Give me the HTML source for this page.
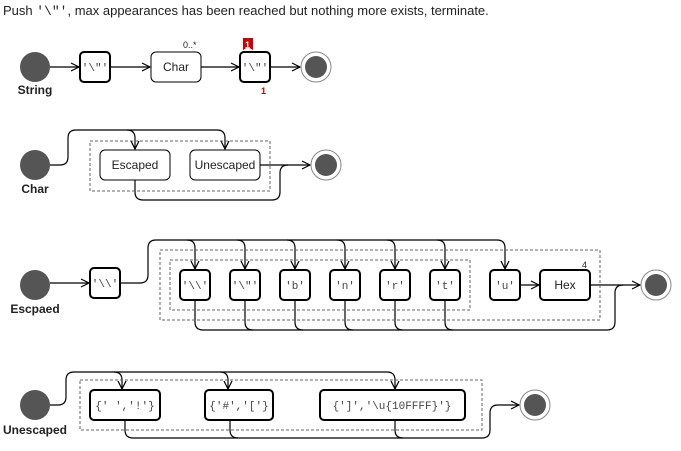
<!DOCTYPE html>
<html><head><meta charset="utf-8"><style>
body{margin:0;background:#fff;width:681px;height:451px;overflow:hidden}
svg{display:block}
text{font-family:"Liberation Sans",sans-serif}
.m{font-family:"Liberation Mono",monospace;font-size:11px;fill:#444}
.l{font-size:12px;fill:#222}
.b{font-weight:bold;font-size:12px;fill:#222}
</style></head><body>
<svg width="681" height="451" viewBox="0 0 681 451" xmlns="http://www.w3.org/2000/svg">
<defs><marker id="a" markerWidth="10" markerHeight="10" refX="9" refY="5" orient="auto" markerUnits="userSpaceOnUse"><path d="M1,1 L9,5 L1,9" fill="none" stroke="#000" stroke-width="1.2"/></marker></defs>
<text x="3" y="15" style="font-size:13px;fill:#222">Push <tspan class="m" style="font-size:13px;fill:#222">'\"'</tspan>, max appearances has been reached but nothing more exists, terminate.</text>
<g fill="none" stroke="#000" stroke-width="1.2">
<!-- row1 -->
<path d="M50,67 H79" marker-end="url(#a)"/>
<path d="M110,67 H150" marker-end="url(#a)"/>
<path d="M201,67 H239" marker-end="url(#a)"/>
<path d="M270,67 H300" marker-end="url(#a)"/>
<!-- row2 -->
<path d="M50,165 H60 Q68,165 68,157 V138 Q68,130 76,130 H127 Q135,130 135,138 V149" marker-end="url(#a)"/>
<path d="M127,130 H217 Q225,130 225,138 V149" marker-end="url(#a)"/>
<path d="M260,165 H310" marker-end="url(#a)"/>
<path d="M135,180 V192 Q135,200 143,200 H272 Q280,200 280,192 V173 Q280,165 288,165"/>
<!-- row3 -->
<path d="M50,283 H89" marker-end="url(#a)"/>
<path d="M120,283 H140 Q148,283 148,275 V248 Q148,240 156,240 H497 Q505,240 505,248 V269" marker-end="url(#a)"/>
<path d="M187,240 Q195,240 195,248 V269 M237,240 Q245,240 245,248 V269 M287,240 Q295,240 295,248 V269 M337,240 Q345,240 345,248 V269 M387,240 Q395,240 395,248 V269 M437,240 Q445,240 445,248 V269"/>
<path d="M195,269 l-4,-8 M195,269 l4,-8 M245,269 l-4,-8 M245,269 l4,-8 M295,269 l-4,-8 M295,269 l4,-8 M345,269 l-4,-8 M345,269 l4,-8 M395,269 l-4,-8 M395,269 l4,-8 M445,269 l-4,-8 M445,269 l4,-8"/>
<path d="M520,285 H539" marker-end="url(#a)"/>
<path d="M590,285 H640" marker-end="url(#a)"/>
<path d="M195,300 V322 Q195,330 203,330 H607 Q615,330 615,322 V293 Q615,285 623,285"/>
<path d="M245,300 V322 Q245,330 253,330 M295,300 V322 Q295,330 303,330 M345,300 V322 Q345,330 353,330 M395,300 V322 Q395,330 403,330 M445,300 V322 Q445,330 453,330"/>
<!-- row4 -->
<path d="M50,405 H58 Q66,405 66,397 V380 Q66,372 74,372 H387 Q395,372 395,380 V389" marker-end="url(#a)"/>
<path d="M114,372 Q122,372 122,380 V389" marker-end="url(#a)"/>
<path d="M220,372 Q228,372 228,380 V389" marker-end="url(#a)"/>
<path d="M125,420 V430 Q125,438 133,438 H482 Q490,438 490,430 V413 Q490,405 498,405 H519" marker-end="url(#a)"/>
<path d="M230,420 V430 Q230,438 238,438 M395,420 V430 Q395,438 403,438"/>
</g>
<!-- dashed -->
<g fill="none" stroke="#666" stroke-dasharray="3,2">
<rect x="90" y="141" width="180" height="50"/>
<rect x="160" y="250" width="440" height="70"/>
<rect x="170" y="260" width="300" height="50"/>
<rect x="80" y="380" width="402" height="50"/>
</g>
<!-- circles -->
<g fill="#555">
<circle cx="35" cy="67" r="15"/><circle cx="35" cy="165" r="15"/><circle cx="35" cy="285" r="15"/><circle cx="35" cy="405" r="15"/>
</g>
<g fill="#555" stroke="#888"><circle cx="316" cy="67" r="15" fill="#fff"/><circle cx="316" cy="67" r="11" stroke="none"/>
<circle cx="326" cy="165" r="15" fill="#fff"/><circle cx="326" cy="165" r="11" stroke="none"/>
<circle cx="656" cy="285" r="15" fill="#fff"/><circle cx="656" cy="285" r="11" stroke="none"/>
<circle cx="535" cy="405" r="15" fill="#fff"/><circle cx="535" cy="405" r="11" stroke="none"/></g>
<!-- boxes -->
<g fill="#fff" stroke="#000">
<rect x="80" y="52" width="30" height="30" rx="4" stroke-width="2"/>
<rect x="151" y="52" width="50" height="30" rx="5"/>
<rect x="240" y="52" width="30" height="30" rx="4" stroke-width="2"/>
<rect x="100" y="150" width="70" height="30" rx="5"/>
<rect x="190" y="150" width="70" height="30" rx="5"/>
<rect x="90" y="268" width="30" height="30" rx="4" stroke-width="2"/>
<rect x="180" y="270" width="30" height="30" rx="4" stroke-width="2"/>
<rect x="230" y="270" width="30" height="30" rx="4" stroke-width="2"/>
<rect x="280" y="270" width="30" height="30" rx="4" stroke-width="2"/>
<rect x="330" y="270" width="30" height="30" rx="4" stroke-width="2"/>
<rect x="380" y="270" width="30" height="30" rx="4" stroke-width="2"/>
<rect x="430" y="270" width="30" height="30" rx="4" stroke-width="2"/>
<rect x="490" y="270" width="30" height="30" rx="4" stroke-width="2"/>
<rect x="540" y="270" width="50" height="30" rx="4" stroke-width="2"/>
<rect x="90" y="390" width="70" height="30" rx="4" stroke-width="2"/>
<rect x="205" y="390" width="68" height="30" rx="4" stroke-width="2"/>
<rect x="320" y="390" width="145" height="30" rx="4" stroke-width="2"/>
</g>
<path d="M243,38 h10 v12 l-5,-3 l-5,3z" fill="#c00"/>
<text x="245" y="48" style="font-size:9px;fill:#fff;font-weight:bold">1</text>
<text x="261" y="94" style="font-size:9px;fill:#c00;font-weight:bold">1</text>
<text x="183" y="48" style="font-size:9px;fill:#222">0..*</text>
<text x="582" y="268" style="font-size:9px;fill:#222">4</text>
<g class="m" text-anchor="middle">
<text x="95" y="71" class="m">'\"'</text>
<text x="255" y="71" class="m">'\"'</text>
<text x="105" y="287" class="m">'\\'</text>
<text x="195" y="289" class="m">'\\'</text>
<text x="245" y="289" class="m">'\"'</text>
<text x="295" y="289" class="m">'b'</text>
<text x="345" y="289" class="m">'n'</text>
<text x="395" y="289" class="m">'r'</text>
<text x="445" y="289" class="m">'t'</text>
<text x="505" y="289" class="m">'u'</text>
<text x="125" y="409" class="m">{' ','!'}</text>
<text x="239" y="409" class="m">{'#','['}</text>
<text x="392" y="409" class="m">{']','\u{10FFFF}'}</text>
</g>
<g text-anchor="middle">
<text x="176" y="71" class="l">Char</text>
<text x="135" y="169" class="l">Escaped</text>
<text x="225" y="169" class="l">Unescaped</text>
<text x="565" y="289" class="l">Hex</text>
<text x="35" y="94" class="b">String</text>
<text x="35" y="193" class="b">Char</text>
<text x="35" y="313" class="b">Escpaed</text>
<text x="35" y="434" class="b">Unescaped</text>
</g>
</svg>
</body></html>
